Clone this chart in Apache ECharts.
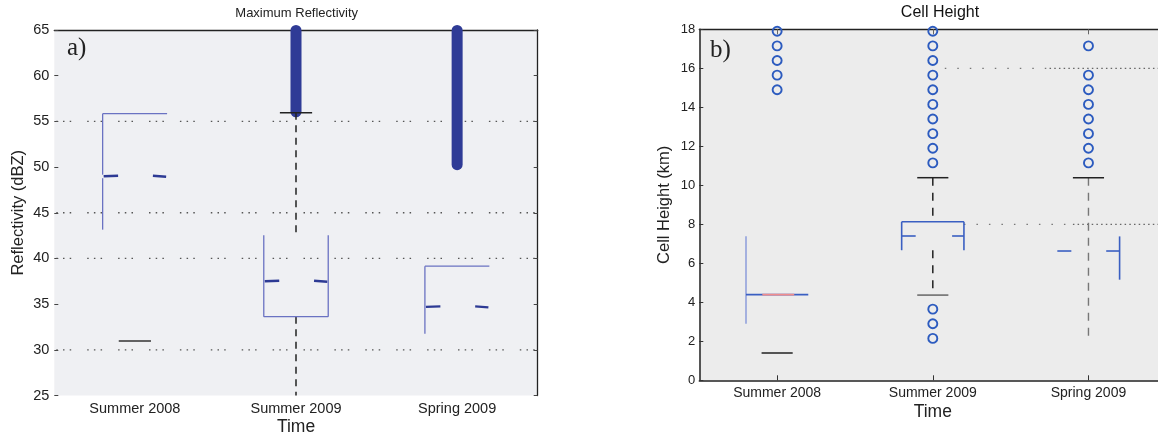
<!DOCTYPE html>
<html>
<head>
<meta charset="utf-8">
<script src="https://cdn.jsdelivr.net/npm/echarts@6.0.0/dist/echarts.min.js"></script>
<style>
html,body{margin:0;padding:0;background:#fff;}
#chart{width:1158px;height:435px;}
</style>
</head>
<body>
<div id="chart"></div>
<script>
// ---------- data ----------
const categories = ['Summer 2008', 'Summer 2009', 'Spring 2009'];

// Panel a) Maximum Reflectivity (dBZ)
const reflUpperCap    = [null, 55.95, null];
const reflOutlierLow  = [null, 56.0, 50.2];
const reflOutlierHigh = [null, 65.0, 65.0];
const reflBoxUpper    = [55.84, 42.54, 39.15];
const reflMedian      = [49.0, 37.5, 34.7];
const reflBoxLower    = [43.15, 33.63, 31.77];
const reflLowerCap    = [30.97, null, null];
const reflWhiskerEnd  = [null, 25.0, null];
const reflGridLines   = [55, 45, 40, 30];

// Panel b) Cell Height (km)
const heightOutliers = [
  [17.9, 17.15, 16.4, 15.65, 14.9],
  [17.9, 17.15, 16.4, 15.65, 14.9, 14.15, 13.4, 12.65, 11.9, 11.15, 3.65, 2.9, 2.15],
  [17.15, 15.65, 14.9, 14.15, 13.4, 12.65, 11.9, 11.15]
];
const heightUpperCap   = [null, 10.39, 10.39];
const heightBoxUpper   = [7.39, 8.13, 7.38];
const heightMedian     = [4.39, 7.40, 6.63];
const heightBoxLower   = [2.90, 6.67, 5.16];
const heightLowerCap   = [1.40, 4.37, null];
const heightWhiskerEnd = [null, 4.37, 2.13];
const heightGridLines  = [16, 8];

// ---------- drawing helpers ----------
const FONT = '"Liberation Sans", Arial, sans-serif';
function seg(x1, y1, x2, y2, stroke, lw, dash) {
  return {type: 'line', silent: true,
    shape: {x1: x1, y1: y1, x2: x2, y2: y2},
    style: {stroke: stroke, lineWidth: lw, lineDash: dash || null, fill: null}};
}

function reflRender(params, api) {
  const i = api.value(0);
  const bw = api.size([1, 0])[0];
  const cx = api.coord([i, reflMedian[i]])[0];
  const Y = v => api.coord([i, v])[1];
  const hw = bw * 0.2, cw = bw * 0.1;
  const BOX = '#6a72c2', MED = '#2d3a94', CAP = '#222';
  const ch = [];
  if (reflOutlierLow[i] != null) {
    const yt = Y(reflOutlierHigh[i]), yb = Y(reflOutlierLow[i]);
    ch.push({type: 'rect', silent: true,
      shape: {x: cx - 5.5, y: yt - 5, width: 11, height: yb - yt + 10, r: 5.5},
      style: {fill: '#2f3b96'}});
  }
  const yU = Y(reflBoxUpper[i]), yM = Y(reflMedian[i]), yL = Y(reflBoxLower[i]);
  if (i === 0) {
    ch.push(seg(cx - hw, yU, cx + hw, yU, BOX, 1.3));
    ch.push(seg(cx - hw, yU, cx - hw, yM - 1.5, BOX, 1.3));
    ch.push(seg(cx - hw, yM + 2, cx - hw, yL, BOX, 1.3));
  } else if (i === 1) {
    ch.push(seg(cx, Y(reflUpperCap[i]), cx, yU, CAP, 1.5, [7, 5.5]));
    ch.push(seg(cx, yL, cx, Y(reflWhiskerEnd[i]), CAP, 1.5, [7, 5.5]));
    ch.push(seg(cx - cw, Y(reflUpperCap[i]), cx + cw, Y(reflUpperCap[i]), CAP, 1.5));
    ch.push(seg(cx - hw, yU, cx - hw, yL, BOX, 1.3));
    ch.push(seg(cx + hw, yU, cx + hw, yL, BOX, 1.3));
    ch.push(seg(cx - hw, yL, cx + hw, yL, BOX, 1.3));
  } else {
    ch.push(seg(cx - hw, yU, cx + hw, yU, BOX, 1.3));
    ch.push(seg(cx - hw, yU, cx - hw, yL, BOX, 1.3));
  }
  if (reflLowerCap[i] != null) {
    const y = Y(reflLowerCap[i]);
    ch.push(seg(cx - cw, y, cx + cw, y, '#333', 1.5));
  }
  // notch / median fragments
  ch.push(seg(cx - hw + 1, yM, cx - hw * 0.52, yM - 0.5, MED, 2.4));
  ch.push(seg(cx + hw * 0.56, yM - 0.5, cx + hw * 0.97, yM + 0.5, MED, 2.4));
  return {type: 'group', children: ch};
}

function reflGridRender(params, api) {
  const y = api.coord([0, api.value(1)])[1];
  const cs = params.coordSys;
  return seg(cs.x + 2, y, cs.x + cs.width, y, '#555', 1.3, [1.5, 5.2, 1.5, 5.2, 1.5, 16]);
}

function heightRender(params, api) {
  const i = api.value(0);
  const bw = api.size([1, 0])[0];
  const cx = api.coord([i, heightMedian[i]])[0];
  const Y = v => api.coord([i, v])[1];
  const hw = bw * 0.2, cw = bw * 0.1;
  const BOX = '#3a5fc2', CAP = '#222';
  const ch = [];
  const yU = Y(heightBoxUpper[i]), yM = Y(heightMedian[i]), yL = Y(heightBoxLower[i]);
  if (i === 0) {
    ch.push(seg(cx - hw, yU, cx - hw, yL, '#8c9ddb', 1.5));
    ch.push(seg(cx - hw, yM, cx + hw, yM, BOX, 1.8));
    ch.push(seg(cx - cw * 0.95, yM, cx + cw * 1.1, yM, '#f08c8c', 1.8));
  } else if (i === 1) {
    ch.push(seg(cx, Y(heightUpperCap[i]), cx, yU, CAP, 1.5, [8, 7]));
    ch.push(seg(cx, yL, cx, Y(heightWhiskerEnd[i]), CAP, 1.5, [8, 7]));
    ch.push(seg(cx - cw, Y(heightUpperCap[i]), cx + cw, Y(heightUpperCap[i]), CAP, 1.5));
    ch.push(seg(cx - hw, yU, cx + hw, yU, BOX, 1.6));
    ch.push(seg(cx - hw, yU, cx - hw, yL, BOX, 1.6));
    ch.push(seg(cx + hw, yU, cx + hw, yL, BOX, 1.6));
    ch.push(seg(cx - hw, yM, cx - hw * 0.55, yM, BOX, 1.6));
    ch.push(seg(cx + hw * 0.62, yM, cx + hw, yM, BOX, 1.6));
  } else {
    ch.push(seg(cx, Y(heightUpperCap[i]), cx, Y(heightWhiskerEnd[i]), '#777', 1.4, [8, 7]));
    ch.push(seg(cx - cw, Y(heightUpperCap[i]), cx + cw, Y(heightUpperCap[i]), CAP, 1.5));
    ch.push(seg(cx - hw, yM, cx - hw * 0.55, yM, BOX, 1.6));
    ch.push(seg(cx + hw * 0.57, yM, cx + hw, yM, BOX, 1.6));
    ch.push(seg(cx + hw, yU, cx + hw, yL, BOX, 1.6));
  }
  if (heightLowerCap[i] != null) {
    const y = Y(heightLowerCap[i]);
    ch.push(seg(cx - cw, y, cx + cw, y, i === 0 ? '#222' : '#666', 1.5));
  }
  return {type: 'group', children: ch};
}

function heightGridRender(params, api) {
  const k = api.value(0);
  const v = api.value(1);
  const bw = api.size([1, 0])[0];
  const y = api.coord([1, v])[1];
  const c1 = api.coord([1, v])[0];
  const c2 = api.coord([2, v])[0];
  const cs = params.coordSys;
  const start = c1 + bw * (k === 0 ? 0.077 : 0.2);
  const mid = k === 0 ? c1 + bw * 0.75 : c2 - bw * 0.1;
  return {type: 'group', children: [
    seg(start, y, mid, y, '#777', 1.3, [1.5, 11]),
    seg(mid, y, cs.x + cs.width, y, '#666', 1.3, [1.5, 3.2])
  ]};
}

const scatterData = [];
heightOutliers.forEach((arr, i) => arr.forEach(v => scatterData.push([i, v])));

const axisText = {color: '#222', fontFamily: FONT};

const option = {
  animation: false,
  backgroundColor: '#fff',
  grid: [
    {left: 54.3, top: 30, width: 483.4, height: 365.5, show: true, backgroundColor: '#eff0f3', borderWidth: 0,
      containLabel: false, outerBoundsMode: 'none'},
    {left: 699.3, top: 29.3, width: 467, height: 351, show: true, backgroundColor: '#ececec', borderWidth: 0,
      containLabel: false, outerBoundsMode: 'none'}
  ],
  xAxis: [
    {type: 'category', gridIndex: 0, data: categories, position: 'bottom',
      axisLine: {show: false}, axisTick: {show: false},
      axisLabel: Object.assign({fontSize: 14.5, margin: 6}, axisText),
      name: 'Time', nameLocation: 'middle', nameGap: 23, nameMoveOverlap: false,
      nameTextStyle: Object.assign({fontSize: 17.5}, axisText)},
    {type: 'category', gridIndex: 0, data: categories, position: 'top',
      axisLine: {show: true, lineStyle: {color: '#222', width: 1.3}}, axisTick: {show: false}, axisLabel: {show: false}},
    {type: 'category', gridIndex: 1, data: categories, position: 'bottom',
      axisLine: {show: true, lineStyle: {color: '#222', width: 1.5}},
      axisTick: {show: true, inside: true, alignWithLabel: true, length: 5, lineStyle: {color: '#333'}},
      axisLabel: Object.assign({fontSize: 14, margin: 6}, axisText),
      name: 'Time', nameLocation: 'middle', nameGap: 22.5, nameMoveOverlap: false,
      nameTextStyle: Object.assign({fontSize: 17.5}, axisText)},
    {type: 'category', gridIndex: 1, data: categories, position: 'top',
      axisLine: {show: true, lineStyle: {color: '#222', width: 1.3}},
      axisTick: {show: true, inside: true, alignWithLabel: true, length: 5, lineStyle: {color: '#666'}},
      axisLabel: {show: false}}
  ],
  yAxis: [
    {type: 'value', gridIndex: 0, min: 25, max: 65, interval: 5, position: 'left',
      axisLine: {show: false},
      axisTick: {show: true, inside: true, length: 4, lineStyle: {color: '#444'}},
      axisLabel: Object.assign({fontSize: 14.5, margin: 5}, axisText),
      splitLine: {show: false},
      name: 'Reflectivity (dBZ)', nameLocation: 'middle', nameGap: 27,
      nameTextStyle: Object.assign({fontSize: 16.5}, axisText)},
    {type: 'value', gridIndex: 0, min: 25, max: 65, interval: 5, position: 'right',
      axisLine: {show: true, lineStyle: {color: '#222', width: 1.3}},
      axisTick: {show: true, inside: true, length: 4, lineStyle: {color: '#444'}},
      axisLabel: {show: false}, splitLine: {show: false}},
    {type: 'value', gridIndex: 1, min: 0, max: 18, interval: 2, position: 'left',
      axisLine: {show: true, lineStyle: {color: '#222', width: 1.5}},
      axisTick: {show: true, inside: true, length: 4, lineStyle: {color: '#333'}},
      axisLabel: Object.assign({fontSize: 13, margin: 4}, axisText),
      splitLine: {show: false},
      name: 'Cell Height (km)', nameLocation: 'middle', nameGap: 26,
      nameTextStyle: Object.assign({fontSize: 16.5}, axisText)}
  ],
  graphic: [
    {type: 'text', x: 296.7, y: 13, silent: true,
      style: {text: 'Maximum Reflectivity', fontSize: 13, fontFamily: FONT, fill: '#222', align: 'center', verticalAlign: 'middle'}},
    {type: 'text', x: 940, y: 13, silent: true,
      style: {text: 'Cell Height', fontSize: 16, fontFamily: FONT, fill: '#111', align: 'center', verticalAlign: 'middle'}},
    {type: 'text', x: 67, y: 48, silent: true,
      style: {text: 'a)', fontSize: 25, fontFamily: '"Liberation Serif", "DejaVu Serif", serif', fill: '#222', align: 'left', verticalAlign: 'middle'}},
    {type: 'text', x: 710, y: 50, silent: true,
      style: {text: 'b)', fontSize: 25, fontFamily: '"Liberation Serif", "DejaVu Serif", serif', fill: '#222', align: 'left', verticalAlign: 'middle'}}
  ],
  series: [
    {type: 'custom', xAxisIndex: 0, yAxisIndex: 0, z: 1,
      data: reflGridLines.map(v => [0, v]), encode: {x: 0, y: 1}, renderItem: reflGridRender},
    {type: 'custom', xAxisIndex: 0, yAxisIndex: 0, z: 3,
      data: categories.map((c, i) => [i, reflMedian[i]]), encode: {x: 0, y: 1}, renderItem: reflRender},
    {type: 'custom', xAxisIndex: 2, yAxisIndex: 2, z: 1,
      data: heightGridLines.map((v, k) => [k, v]), encode: {y: 1}, renderItem: heightGridRender},
    {type: 'custom', xAxisIndex: 2, yAxisIndex: 2, z: 3,
      data: categories.map((c, i) => [i, heightMedian[i]]), encode: {x: 0, y: 1}, renderItem: heightRender},
    {type: 'scatter', xAxisIndex: 2, yAxisIndex: 2, z: 4,
      data: scatterData, symbol: 'circle', symbolSize: 9,
      itemStyle: {color: 'rgba(0,0,0,0)', borderColor: '#2c5bbf', borderWidth: 1.9, opacity: 1},
      emphasis: {disabled: true}}
  ]
};

const chart = echarts.init(document.getElementById('chart'), null, {renderer: 'canvas', devicePixelRatio: 1});
chart.setOption(option);
</script>
</body>
</html>
